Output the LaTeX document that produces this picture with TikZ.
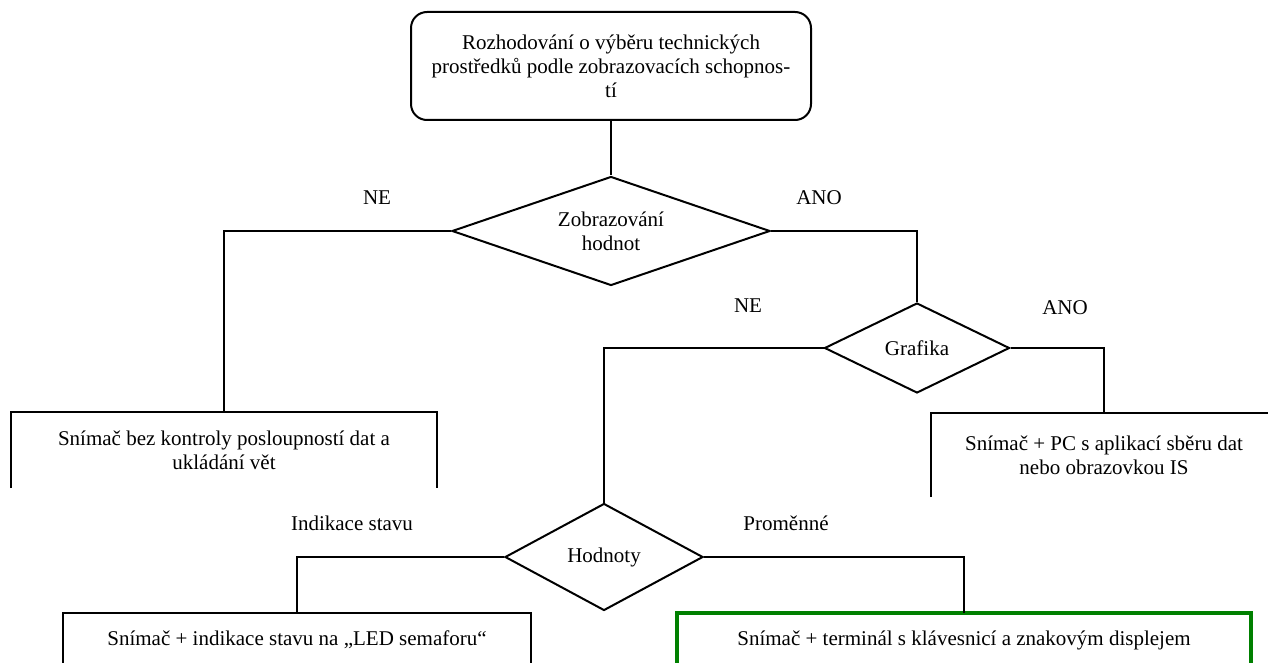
\documentclass[tikz,border=0pt]{standalone}
\usepackage{fontspec}
\setmainfont{Liberation Serif}
\usetikzlibrary{shapes.geometric}
\definecolor{boxgreen}{RGB}{0,128,0}
\begin{document}
\begin{tikzpicture}[x=1pt,y=-1pt,
  every node/.style={font=\rmfamily\fontsize{21}{24}\selectfont},
  conn/.style={line width=2pt},
  decision/.style={diamond, draw, line width=2pt, inner sep=0pt, align=center},
  outcome/.style={rectangle, inner sep=0pt, align=center},
  lbl/.style={inner sep=0pt}]
\useasboundingbox (0,0) rectangle (1268,663);
\clip (0,0) rectangle (1268,663);

% start box
\node[draw, rounded corners=16pt, line width=2pt, minimum width=400pt,
      minimum height=108pt, inner sep=0pt, align=center] (root) at (611,66)
  {Rozhodování o výběru technických\\prostředků podle zobrazovacích schopnos-\\tí};

% decisions
\node[decision, minimum width=318pt, minimum height=109pt, aspect=2.9] (disp) at (611,231) {Zobrazování\\hodnot};
\node[decision, minimum width=185pt, minimum height=90pt, aspect=2.06] (graf) at (917,348) {Grafika};
\node[decision, minimum width=198pt, minimum height=107pt, aspect=1.85] (vals) at (604,557) {Hodnoty};

% outcomes (drawn open at the bottom)
\node[outcome, minimum width=426pt, minimum height=76pt] (noDisp) at (224,450)
  {Snímač bez kontroly posloupností dat a\\ukládání vět};
\node[outcome, minimum width=346pt, minimum height=84pt] (pc) at (1104,455)
  {Snímač + PC s aplikací sběru dat\\nebo obrazovkou IS};
\node[outcome, minimum width=467pt, minimum height=54pt] (led) at (297,640)
  {Snímač + indikace stavu na „LED semaforu“};
\node[outcome, minimum width=574pt, minimum height=54pt] (term) at (964,640)
  {Snímač + terminál s klávesnicí a znakovým displejem};

\draw[conn] (noDisp.south west) |- (noDisp.north east) -- (noDisp.south east);
\draw[conn] (pc.south west) |- (pc.north east) -- (pc.south east);
\draw[conn] (led.south west) |- (led.north east) -- (led.south east);
\draw[line width=3.5pt, boxgreen] (term.south west) |- (term.north east) -- (term.south east);

% connectors
\draw[conn] (root.south) -- (disp.north);
\draw[conn] (disp.west) -| (noDisp.north);
\draw[conn] (disp.east) -| (graf.north);
\draw[conn] (graf.east) -| (pc.north);
\draw[conn] (graf.west) -| (vals.north);
\draw[conn] (vals.west) -| (led.north);
\draw[conn] (vals.east) -| (term.north);

% branch labels
\node[lbl] (neDisp) at (377,198) {NE};
\node[lbl] (anoDisp) at (819,198) {ANO};
\node[lbl] (neGraf) at (748,306) {NE};
\node[lbl] (anoGraf) at (1065,308) {ANO};
\node[lbl] (state) at (352,523) {Indikace stavu};
\node[lbl] (vars) at (786,523) {Proměnné};
\end{tikzpicture}
\end{document}
